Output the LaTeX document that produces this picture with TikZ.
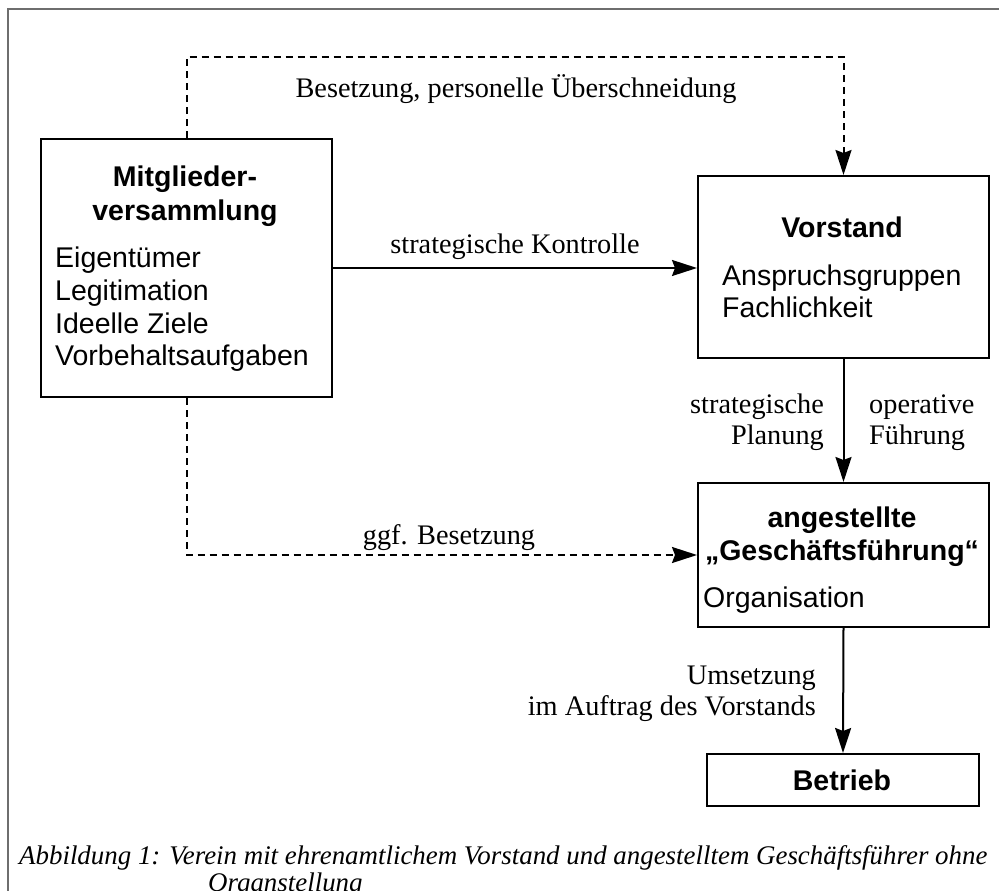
\documentclass[tikz,border=0pt]{standalone}
\usepackage{fontspec}
\setmainfont{Liberation Serif}
\newfontfamily\arialf{Liberation Sans}
\usetikzlibrary{arrows.meta}
\definecolor{framegray}{RGB}{110,110,110}
\begin{document}
\begin{tikzpicture}[x=1pt,y=-1pt,
  box/.style={draw,line width=2pt,inner sep=0pt,anchor=north west},
  st/.style={font=\arialf\fontsize{28.5}{32}\selectfont,inner sep=0pt},
  sb/.style={font=\arialf\bfseries\fontsize{28.5}{32}\selectfont,inner sep=0pt},
  lbl/.style={font=\fontsize{28.3}{32}\selectfont,inner sep=0pt},
  captext/.style={font=\itshape\fontsize{26.9}{32}\selectfont,inner sep=0pt},
  arr/.style={line width=2pt,-{Stealth[length=25pt,width=16pt,inset=3pt]}},
  darr/.style={arr,dash pattern=on 7pt off 5pt}]
\useasboundingbox (0,0) rectangle (999,891);
\clip (0,0) rectangle (999,891);
\fill[white] (0,0) rectangle (999,891);
% frame
\draw[framegray,line width=2pt] (7.5,900) -- (7.5,9.5) -- (1010,9.5);
% boxes
\node[box,minimum width=291pt,minimum height=258pt] (mv) at (40,138) {};
\node[box,minimum width=291pt,minimum height=182pt] (vs) at (697,175) {};
\node[box,minimum width=291pt,minimum height=144pt] (gf) at (697,482) {};
\node[box,minimum width=272pt,minimum height=52pt] (bt) at (706,753) {};
% box texts
\node[sb,anchor=base] (mv1) at (185,186) {Mitglieder-};
\node[sb,anchor=base] (mv2) at (185,220) {versammlung};
\node[st,anchor=base west] (mv3) at (55,267) {Eigentümer};
\node[st,anchor=base west] (mv4) at (55,300) {Legitimation};
\node[st,anchor=base west] (mv5) at (55,333) {Ideelle Ziele};
\node[st,anchor=base west] (mv6) at (55,365) {Vorbehaltsaufgaben};
\node[sb,anchor=base] (vs1) at (842,237) {Vorstand};
\node[st,anchor=base west] (vs2) at (722,285) {Anspruchsgruppen};
\node[st,anchor=base west] (vs3) at (722,317) {Fachlichkeit};
\node[sb,anchor=base] (gf1) at (842,527) {angestellte};
\node[sb,anchor=base] (gf2) at (842,560) {„Geschäftsführung“};
\node[st,anchor=base west] (gf3) at (703,607) {Organisation};
\node[sb,anchor=base] (bt1) at (842,790) {Betrieb};
% connectors
\draw[darr] (mv.north) -- ++(0,-81) coordinate (tl) -| (vs.north);
\draw[arr] (mv.east) -- (mv.east -| vs.west);
\draw[darr] (mv.south) |- (gf.west);
\draw[arr] (vs.south) -- (gf.north);
\draw[arr] (gf.south) -- (bt.north);
% labels
\node[lbl,anchor=base] (l1) at (516,97) {Besetzung, personelle Überschneidung};
\node[lbl,anchor=base] (l2) at (515,253) {strategische Kontrolle};
\node[lbl,anchor=base] (l3) at (449,544) {ggf. Besetzung};
\node[lbl,anchor=base east] (l4) at (824,413) {strategische};
\node[lbl,anchor=base east] (l5) at (824,444) {Planung};
\node[lbl,anchor=base west] (l6) at (869,413) {operative};
\node[lbl,anchor=base west] (l7) at (869,444) {Führung};
\node[lbl,anchor=base east] (l8) at (816,684) {Umsetzung};
\node[lbl,anchor=base east] (l9) at (816,715) {im Auftrag des Vorstands};
% caption
\node[captext,anchor=base west] (c1) at (19,864) {Abbildung 1: Verein mit ehrenamtlichem Vorstand und angestelltem Geschäftsführer ohne};
\node[captext,anchor=base west] (c2) at (208,891) {Organstellung};
\end{tikzpicture}
\end{document}
